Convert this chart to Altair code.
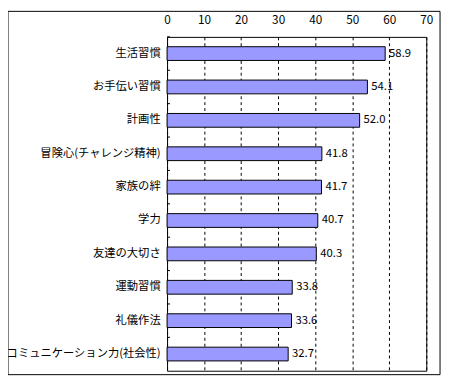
import altair as alt
import pandas as pd

categories = ["生活習慣", "お手伝い習慣", "計画性", "冒険心(チャレンジ精神)", "家族の絆",
              "学力", "友達の大切さ", "運動習慣", "礼儀作法", "コミュニケーション力(社会性)"]
values = [58.9, 54.1, 52.0, 41.8, 41.7, 40.7, 40.3, 33.8, 33.6, 32.7]
x_ticks = [0, 10, 20, 30, 40, 50, 60, 70]

df = pd.DataFrame({"cat": categories, "val": values})
FONT = "Noto Sans CJK JP"

y_enc = alt.Y("cat:N", sort=categories,
              scale=alt.Scale(paddingInner=0, paddingOuter=0),
              axis=alt.Axis(title=None, domain=False, ticks=False, labelPadding=7,
                            labelFontSize=11.5, labelFont=FONT, labelColor="black",
                            labelLimit=300))
x_enc = alt.X("val:Q", scale=alt.Scale(domain=[0, 70], nice=False, zero=True),
              axis=alt.Axis(orient="top", title=None, values=x_ticks, domain=False,
                            ticks=False, labelPadding=11, labelFontSize=12,
                            labelFont=FONT, labelColor="black",
                            labelOverlap=False, labelFlush=False,
                            grid=True, gridColor="black", gridDash=[3, 3],
                            gridOpacity=1, gridWidth=1, zindex=0))

base = alt.Chart(df)
bars = base.mark_bar(size=14, color="#9999FF", stroke="black", strokeWidth=1,
                     opacity=1).encode(x=x_enc, y=y_enc)
labels = base.mark_text(align="left", baseline="middle", dx=4, fontSize=11.5,
                        font=FONT, color="black").encode(
    x=x_enc, y=y_enc, text=alt.Text("val:Q", format=".1f"))
ticks = base.mark_rule(color="black", yOffset=-17).encode(
    y=y_enc, x=alt.value(0), x2=alt.value(3))
frame = alt.Chart(pd.DataFrame({"a": [0]})).mark_rect(
    filled=False, stroke="black", strokeWidth=1).encode(
    x=alt.value(-162), x2=alt.value(278), y=alt.value(-26), y2=alt.value(344))

chart = alt.layer(bars, labels, ticks, frame).properties(
    width=264, height=340,
    autosize=alt.AutoSizeParams(type="none"),
    padding={"left": 162, "top": 26, "right": 16, "bottom": 5},
    background="white",
).configure_view(stroke="black", strokeWidth=1)

chart.save("out.html", embed_options={"renderer": "svg", "actions": False})
